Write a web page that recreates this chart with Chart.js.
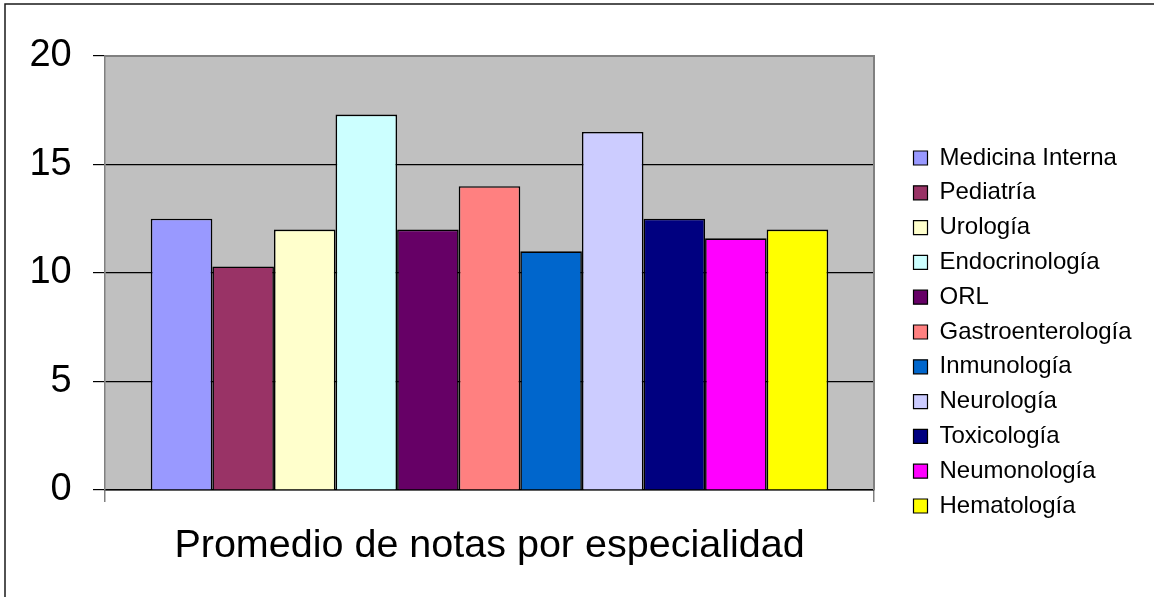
<!DOCTYPE html>
<html>
<head>
<meta charset="utf-8">
<script src="https://cdn.jsdelivr.net/npm/chart.js@4"></script>
<style>
  html, body { margin: 0; padding: 0; background: #fff; }
  #wrap { width: 1154px; height: 597px; position: relative; }
</style>
</head>
<body>
<div id="wrap"><canvas id="c"></canvas></div>
<script>
// ---- data ----
const categories = [''];
const seriesNames = ['Medicina Interna', 'Pediatría', 'Urología', 'Endocrinología', 'ORL',
  'Gastroenterología', 'Inmunología', 'Neurología', 'Toxicología', 'Neumonología', 'Hematología'];
const seriesValues = [12.5, 10.3, 12, 17.3, 12, 14, 11, 16.5, 12.5, 11.6, 12];
const yMin = 0, yMax = 20, yStep = 5;
const xTitle = 'Promedio de notas por especialidad';

// ---- styles ----
const seriesColors = ['#9999FF', '#993366', '#FFFFCC', '#CCFFFF', '#660066',
  '#FF8080', '#0066CC', '#CCCCFF', '#000080', '#FF00FF', '#FFFF00'];
const FONT = "'Liberation Sans', Arial, sans-serif";
const LEGEND_W = 240;
const SPACER_W = 28.7;

const datasets = seriesNames.map((name, i) => ({
  label: name,
  data: [seriesValues[i]],
  backgroundColor: seriesColors[i],
  borderColor: '#000',
  borderWidth: 1.6,
  borderSkipped: 'bottom',
  yAxisID: 'y',
  categoryPercentage: 0.881,
  barPercentage: 1
}));

const decor = {
  id: 'decor',
  beforeLayout(chart) {
    const lg = chart.legend;
    if (lg && !lg._wrapped) {
      lg._wrapped = true;
      const origFit = lg.fit;
      lg.fit = function () { origFit.call(this); this.width = LEGEND_W; };
    }
  },
  beforeDraw(chart) {
    const { ctx, chartArea: a } = chart;
    ctx.save();
    ctx.fillStyle = '#C0C0C0';
    ctx.fillRect(a.left, a.top, a.right - a.left, a.bottom - a.top);
    ctx.strokeStyle = '#1a1a1a';
    ctx.lineWidth = 1.5;
    ctx.beginPath();
    ctx.moveTo(5, 597); ctx.lineTo(5, 4); ctx.lineTo(1154, 4);
    ctx.stroke();
    ctx.restore();
  },
  beforeDatasetsDraw(chart) {
    const { ctx, chartArea: a } = chart;
    ctx.save();
    ctx.strokeStyle = '#808080';
    ctx.lineWidth = 2;
    ctx.beginPath();
    ctx.moveTo(a.left, a.top); ctx.lineTo(a.right, a.top); ctx.lineTo(a.right, a.bottom);
    ctx.stroke();
    ctx.restore();
  }
};

new Chart(document.getElementById('c'), {
  type: 'bar',
  data: { labels: categories, datasets },
  plugins: [decor],
  options: {
    responsive: true,
    maintainAspectRatio: false,
    animation: false,
    devicePixelRatio: 1,
    layout: { padding: { top: 56, bottom: 4, left: 0, right: 1154 - 874 - SPACER_W - LEGEND_W } },
    scales: {
      x: {
        type: 'category',
        ticks: { display: false },
        grid: { display: true, drawOnChartArea: false, drawTicks: true, tickLength: 12, color: '#808080', lineWidth: 1.5 },
        border: { display: true, color: '#000', width: 1.5 },
        title: {
          display: true, text: xTitle, color: '#000',
          font: { family: FONT, size: 39.5, lineHeight: 1.2 },
          padding: { top: 20.6, bottom: 23 }
        }
      },
      y: {
        position: 'left',
        min: yMin, max: yMax,
        ticks: { stepSize: yStep, color: '#000', padding: 21.3, font: { family: FONT, size: 38 } },
        grid: { color: '#000', lineWidth: 1.2, tickLength: 12, drawTicks: true },
        border: { display: true, color: '#808080', width: 1.5 },
        afterFit(s) { s.width = 105; }
      },
      y2: {
        position: 'right',
        display: true,
        grid: { display: false, drawTicks: false },
        border: { display: false },
        ticks: { display: false },
        afterFit(s) { s.width = SPACER_W; }
      }
    },
    plugins: {
      tooltip: { enabled: false },
      legend: {
        position: 'right',
        align: 'center',
        title: { display: true, text: ' ', font: { size: 10, lineHeight: 1.5 }, padding: 0 },
        labels: {
          boxWidth: 14, boxHeight: 14, padding: 10.8, color: '#000',
          font: { family: FONT, size: 24 },
          generateLabels(chart) {
            const items = Chart.defaults.plugins.legend.labels.generateLabels(chart);
            items.forEach(it => { it.lineWidth = 1.2; it.strokeStyle = '#000'; });
            return items;
          }
        }
      }
    }
  }
});
</script>
</body>
</html>
